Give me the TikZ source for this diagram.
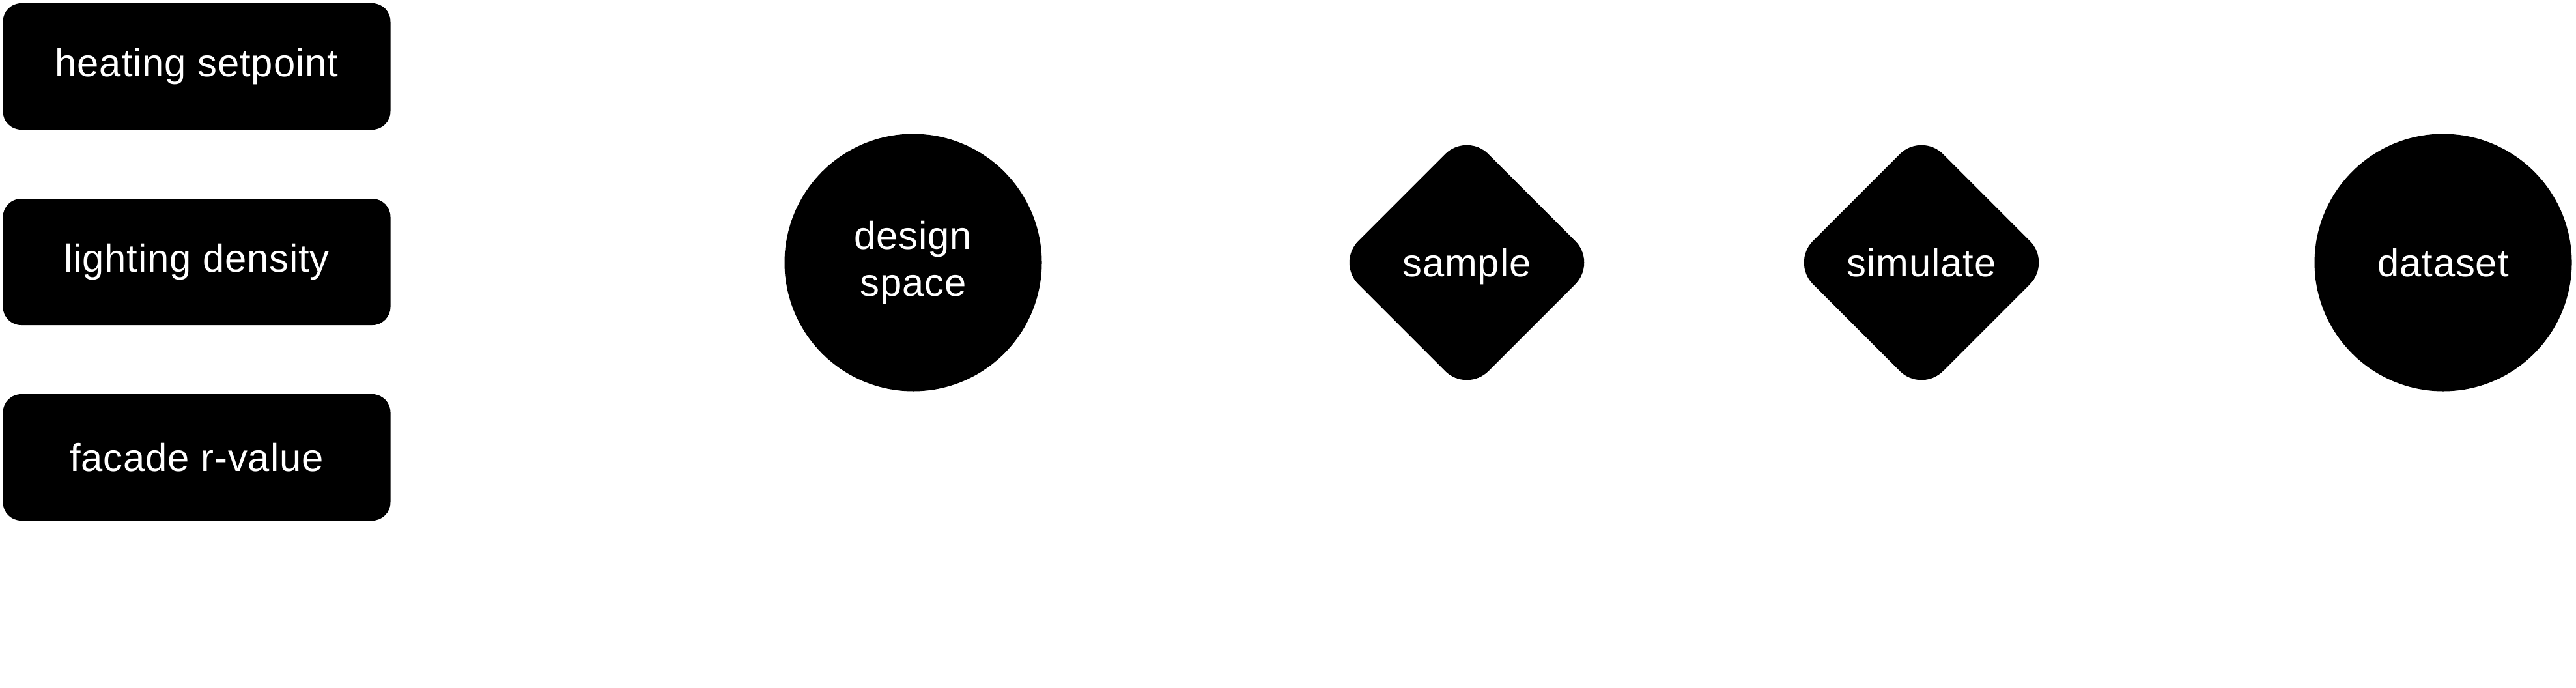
\documentclass[tikz,border=0pt]{standalone}
\usepackage{fontspec}
\setmainfont{Liberation Sans}[LetterSpace=1.5]
\usepackage{tikz}
\usetikzlibrary{shapes.geometric}

\begin{document}
\begin{tikzpicture}[
parambox/.style={rectangle, rounded corners=0.28cm, fill=black, text=white,
minimum width=5.95cm, minimum height=1.94cm, font=\fontsize{17}{20.4}\selectfont},
stagecircle/.style={circle, fill=black, text=white, minimum size=3.95cm,
align=center, font=\fontsize{17}{20.4}\selectfont},
actdiamond/.style={diamond, fill=black, text=white, minimum width=4cm, minimum height=4cm,
inner sep=0pt, text depth=0pt, rounded corners=0.47cm, font=\fontsize{17}{20.4}\selectfont}
]
\useasboundingbox (0,0) rectangle (39.55,10.55);

\node[parambox] (par1) at (3.02,9.53) {heating setpoint};
\node[parambox] (par2) at (3.02,6.53) {lighting density};
\node[parambox] (par3) at (3.02,3.53) {facade r-value};

\node[stagecircle] (space) at (14.02,6.52) {design\\space};
\node[actdiamond] (sample) at (22.52,6.52) {sample};
\node[actdiamond] (simulate) at (29.50,6.52) {simulate};
\node[stagecircle] (dataset) at (37.51,6.52) {dataset};

\end{tikzpicture}
\end{document}
